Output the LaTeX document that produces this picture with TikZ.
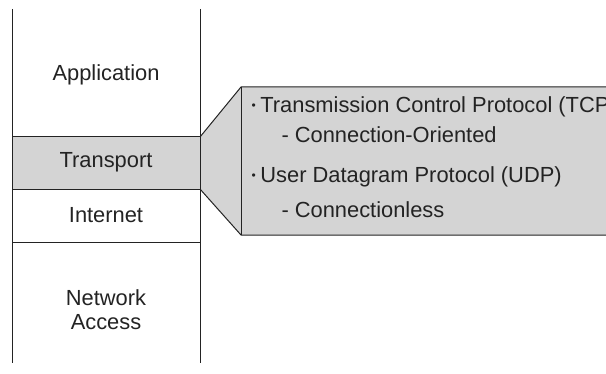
\documentclass[tikz,border=0pt]{standalone}
\usepackage{fontspec}
\setmainfont{Liberation Sans}
\definecolor{layergray}{RGB}{212,212,212}
\definecolor{inkgray}{RGB}{35,35,35}
\newcommand{\dotmark}{\raisebox{2.2pt}{\fontsize{9}{9}\selectfont\textbullet}\kern3.5pt}
\begin{document}
\begin{tikzpicture}[x=0.75pt,y=-0.75pt,line width=0.75pt,
  layer/.style={text=inkgray,font=\fontsize{16.4}{19}\selectfont,align=center},
  item/.style={text=inkgray,font=\fontsize{16.4}{19}\selectfont,anchor=west,inner sep=0pt}]
  \useasboundingbox (0,0) rectangle (606,374);
  % callout
  \fill[layergray] (200,137) -- (241,87) -- (610,87) -- (610,235) -- (241,235) -- (200,189) -- cycle;
  \fill[layergray] (12,137) rectangle (200,189);
  \draw[inkgray] (200,137) -- (241,87) -- (610,87);
  \draw[inkgray] (200,189) -- (241,235) -- (610,235);
  \draw[inkgray] (241,87) -- (241,235);
  % layer stack
  \draw[inkgray] (12,9) -- (12,363);
  \draw[inkgray] (200,9) -- (200,363);
  \draw[inkgray] (12,137) -- (200,137);
  \draw[inkgray] (12,189) -- (200,189);
  \draw[inkgray] (12,242) -- (200,242);
  \node[layer] (app) at (106,75) {Application};
  \node[layer] (trans) at (106,162) {Transport};
  \node[layer] (inet) at (106,215) {Internet};
  \node[layer] (netacc) at (106,310) {Network\\[-1pt]Access};
  % protocols
  \node[item] (tcp) at (251,107) {\dotmark Transmission Control Protocol (TCP)};
  \node[item] (tcpsub) at (281,135) {- Connection-Oriented};
  \node[item] (udp) at (251,177) {\dotmark User Datagram Protocol (UDP)};
  \node[item] (udpsub) at (281,210) {- Connectionless};
\end{tikzpicture}
\end{document}
